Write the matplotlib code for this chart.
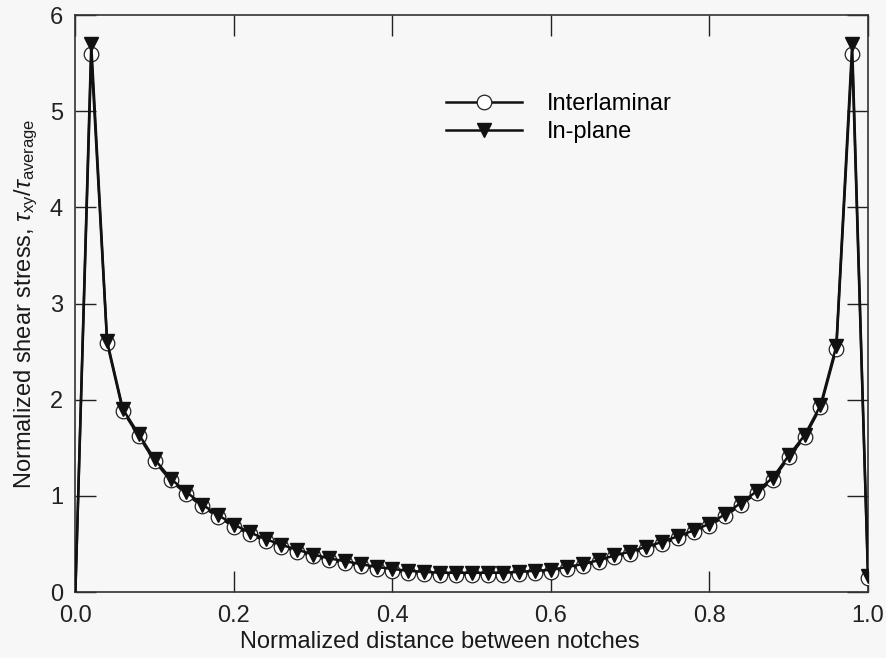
import matplotlib
matplotlib.use("Agg")
import matplotlib.pyplot as plt

plt.rcParams['font.family'] = ['Liberation Sans', 'DejaVu Sans']
plt.rcParams['mathtext.fontset'] = 'custom'
plt.rcParams['mathtext.rm'] = 'Liberation Sans'
plt.rcParams['mathtext.it'] = 'Liberation Sans:italic'

x = [0.00, 0.02, 0.04, 0.06, 0.08, 0.10, 0.12, 0.14, 0.16, 0.18,
     0.20, 0.22, 0.24, 0.26, 0.28, 0.30, 0.32, 0.34, 0.36, 0.38,
     0.40, 0.42, 0.44, 0.46, 0.48, 0.50, 0.52, 0.54, 0.56, 0.58,
     0.60, 0.62, 0.64, 0.66, 0.68, 0.70, 0.72, 0.74, 0.76, 0.78,
     0.80, 0.82, 0.84, 0.86, 0.88, 0.90, 0.92, 0.94, 0.96, 0.98, 1.00]

interlaminar = [0.00, 5.60, 2.59, 1.88, 1.62, 1.36, 1.16, 1.02, 0.89, 0.78,
                0.68, 0.60, 0.53, 0.47, 0.42, 0.37, 0.33, 0.30, 0.27, 0.24,
                0.22, 0.20, 0.19, 0.18, 0.18, 0.18, 0.18, 0.18, 0.19, 0.20,
                0.21, 0.24, 0.27, 0.31, 0.36, 0.40, 0.45, 0.50, 0.56, 0.62,
                0.69, 0.79, 0.91, 1.03, 1.17, 1.40, 1.61, 1.92, 2.53, 5.60, 0.15]

inplane = [0.00, 5.70, 2.61, 1.90, 1.64, 1.38, 1.18, 1.04, 0.91, 0.80,
           0.70, 0.62, 0.55, 0.49, 0.44, 0.39, 0.35, 0.32, 0.29, 0.26,
           0.24, 0.22, 0.21, 0.20, 0.20, 0.20, 0.20, 0.20, 0.21, 0.22,
           0.23, 0.26, 0.29, 0.33, 0.38, 0.42, 0.47, 0.52, 0.58, 0.64,
           0.71, 0.81, 0.93, 1.05, 1.19, 1.42, 1.63, 1.94, 2.56, 5.70, 0.17]

xticks = [0.0, 0.2, 0.4, 0.6, 0.8, 1.0]
xticklabels = ["0.0", "0.2", "0.4", "0.6", "0.8", "1.0"]
yticks = [0, 1, 2, 3, 4, 5, 6]
yticklabels = ["0", "1", "2", "3", "4", "5", "6"]

fig = plt.figure(figsize=(8.87, 6.58), dpi=100)
fig.patch.set_facecolor('#f7f7f7')
ax = fig.add_axes([0.085, 0.1003, 0.8936, 0.8767])
ax.set_facecolor('#f7f7f7')

ax.plot(x, interlaminar, color='#111111', lw=1.8, marker='o', markersize=10.5,
        markerfacecolor='white', markeredgecolor='#222222', markeredgewidth=0.9,
        markevery=slice(1, None), label='Interlaminar', zorder=3)
ax.plot(x, inplane, color='#111111', lw=1.8, marker='v', markersize=10,
        markerfacecolor='#111111', markeredgecolor='#111111',
        markevery=slice(1, None), label='In-plane', zorder=4)

ax.set_xlim(0, 1.0)
ax.set_ylim(0, 6)
ax.set_xticks(xticks)
ax.set_xticklabels(xticklabels)
ax.set_yticks(yticks)
ax.set_yticklabels(yticklabels)
ax.tick_params(direction='in', length=15, width=1.0, top=True, right=True,
               labelsize=17, colors='#222222', pad=9)
for s in ax.spines.values():
    s.set_linewidth(1.2)
    s.set_color('#333333')

ax.set_xlabel('Normalized distance between notches', fontsize=17, color='#1a1a1a')
ax.xaxis.set_label_coords(0.46, -0.087, transform=ax.transAxes)
ax.xaxis.label.set_verticalalignment('center')
ax.set_ylabel(r'Normalized shear stress, $\tau_{\rm xy}/\tau_{\rm average}$', fontsize=17,
              color='#1a1a1a', labelpad=7)

leg = ax.legend(loc='upper left', bbox_to_anchor=(0.441, 0.901), frameon=False,
                fontsize=17, handlelength=3.2, handletextpad=1.05, labelspacing=0.25)

fig.savefig('out.png', dpi=100, facecolor=fig.get_facecolor())
